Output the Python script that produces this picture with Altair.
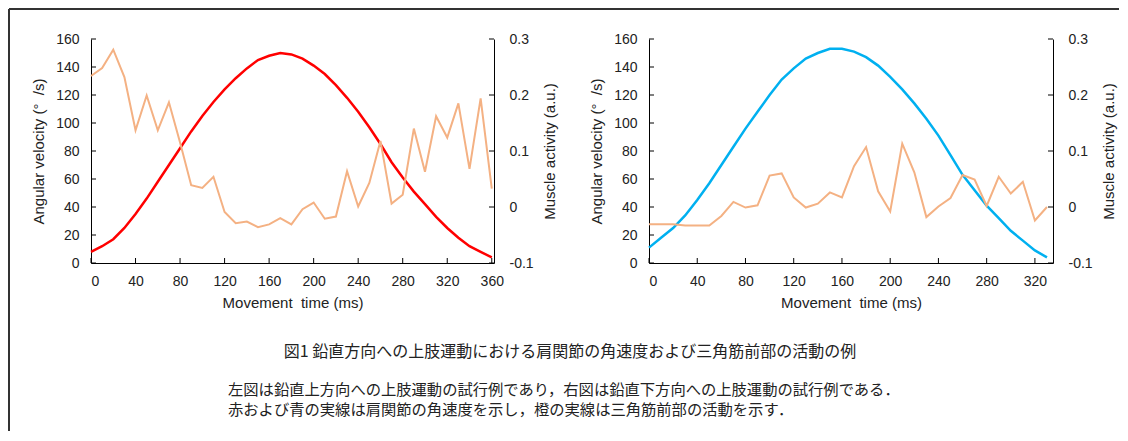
import altair as alt
import pandas as pd

# ---------------- data ----------------
t_left = list(range(0, 361, 10))
velocity_left = [8, 12, 17, 25, 35, 46, 58, 70, 82, 94,
                 105, 115, 124, 132, 139, 145, 148, 150, 149, 146,
                 141, 135, 127, 118, 108, 97, 85, 72, 61, 51,
                 42, 33, 25, 18, 12, 8, 4]
emg_left = [0.234, 0.248, 0.281, 0.232, 0.137, 0.199, 0.137, 0.187, 0.115, 0.039,
            0.034, 0.054, -0.009, -0.029, -0.026, -0.036, -0.031, -0.020, -0.031, -0.004,
            0.008, -0.021, -0.017, 0.064, 0.001, 0.043, 0.118, 0.006, 0.022, 0.140,
            0.063, 0.162, 0.124, 0.185, 0.068, 0.194, 0.033]

t_right = list(range(0, 331, 10))
velocity_right = [11, 18, 25, 34, 45, 57, 70, 83, 96, 108,
                  120, 131, 139, 146, 150, 153, 153, 151, 147, 141,
                  133, 124, 114, 103, 91, 77, 63, 52, 41, 32,
                  23, 16, 9, 4]
emg_right = [-0.031, -0.031, -0.031, -0.033, -0.033, -0.033, -0.016, 0.009, -0.001, 0.003,
             0.056, 0.060, 0.017, -0.001, 0.006, 0.026, 0.017, 0.073, 0.107, 0.028,
             -0.008, 0.113, 0.062, -0.018, 0.001, 0.016, 0.057, 0.049, 0.002, 0.054,
             0.024, 0.045, -0.024, 0.000]

x_ticks_left = [0, 40, 80, 120, 160, 200, 240, 280, 320, 360]
x_ticks_right = [0, 40, 80, 120, 160, 200, 240, 280, 320]
velocity_ticks = [0, 20, 40, 60, 80, 100, 120, 140, 160]
emg_ticks = [-0.1, 0, 0.1, 0.2, 0.3]

x_title = "Movement\u00a0 time (ms)"
y_left_title = "Angular velocity (°\u00a0 /s)"
y_right_title = "Muscle activity (a.u.)"

caption_title = "図1 鉛直方向への上肢運動における肩関節の角速度および三角筋前部の活動の例"
caption_lines = [
    "左図は鉛直上方向への上肢運動の試行例であり，右図は鉛直下方向への上肢運動の試行例である．",
    "赤および青の実線は肩関節の角速度を示し，橙の実線は三角筋前部の活動を示す．",
]

# ---------------- style ----------------
RED = "#FF0000"
BLUE = "#00B0F0"
ORANGE = "#F4B183"
AXC = "#000000"
FONT = "Liberation Sans"
JP = "Noto Sans CJK JP"
H = 224
W_LEFT = 403
W_RIGHT = 404
TICK = 5

emg_label = "datum.value == 0 ? '0' : (datum.value < 0 ? '-' + format(-datum.value, '.1f') : format(datum.value, '.1f'))"


def panel(t, vel, emg, color, xmax, xticks, W, extra=None):
    df = pd.DataFrame({"t": t, "vel": vel, "emg": emg})
    xs = alt.Scale(domain=[0, xmax], nice=False, zero=False)
    ysl = alt.Scale(domain=[0, 160], nice=False)
    ysr = alt.Scale(domain=[-0.1, 0.3], nice=False)
    xaxis = alt.Axis(orient="bottom", values=xticks, title=x_title, ticks=False, grid=False,
                     labelPadding=11, titlePadding=7)

    vel_line = alt.Chart(df).mark_line(color=color, strokeWidth=2.5).encode(
        x=alt.X("t:Q", scale=xs, axis=xaxis),
        y=alt.Y("vel:Q", scale=ysl,
                axis=alt.Axis(orient="left", values=velocity_ticks, title=y_left_title,
                              ticks=False, grid=False, labelPadding=12, titlePadding=9)),
    )
    emg_line = alt.Chart(df).mark_line(color=ORANGE, strokeWidth=2).encode(
        x=alt.X("t:Q", scale=xs, axis=xaxis),
        y=alt.Y("emg:Q", scale=ysr,
                axis=alt.Axis(orient="right", values=emg_ticks, title=y_right_title,
                              ticks=False, grid=False, labelPadding=15, titlePadding=9,
                              titleAngle=270, titleBaseline="top", labelExpr=emg_label)),
    )
    xt = alt.Chart(pd.DataFrame({"t": xticks})).mark_rule(color=AXC, strokeWidth=1).encode(
        x=alt.X("t:Q", scale=xs, axis=xaxis), y=alt.value(H - TICK), y2=alt.value(H))
    ylt = alt.Chart(pd.DataFrame({"v": velocity_ticks})).mark_rule(color=AXC, strokeWidth=1).encode(
        y=alt.Y("v:Q", scale=ysl, axis=None), x=alt.value(0), x2=alt.value(TICK))
    yrt = alt.Chart(pd.DataFrame({"v": emg_ticks})).mark_rule(color=AXC, strokeWidth=1).encode(
        y=alt.Y("v:Q", scale=ysr, axis=None), x=alt.value(W - TICK), x2=alt.value(W))

    layers = [vel_line, emg_line, xt, ylt, yrt] + (extra or [])
    return alt.layer(*layers).resolve_scale(y="independent").resolve_axis(y="independent").properties(
        width=W, height=H)


# frame and caption (drawn in the left panel's coordinate space)
frame_top = alt.Chart(pd.DataFrame({"edge": ["top"]})).mark_rule(color="#333333", strokeWidth=2).encode(
    x=alt.value(-82), x2=alt.value(1028), y=alt.value(-30))
frame_left = alt.Chart(pd.DataFrame({"edge": ["left"]})).mark_rule(color="#333333", strokeWidth=2).encode(
    x=alt.value(-82), y=alt.value(-30), y2=alt.value(392))
cap0 = alt.Chart(pd.DataFrame({"text": [caption_title]})).mark_text(
    font=JP, fontSize=16, align="center", baseline="middle", color="#222222").encode(
    text="text:N", x=alt.value(479), y=alt.value(313))
cap1 = alt.Chart(pd.DataFrame({"text": [caption_lines[0]]})).mark_text(
    font=JP, fontSize=15.3, align="left", baseline="middle", color="#222222").encode(
    text="text:N", x=alt.value(137), y=alt.value(351))
cap2 = alt.Chart(pd.DataFrame({"text": [caption_lines[1]]})).mark_text(
    font=JP, fontSize=15.3, align="left", baseline="middle", color="#222222").encode(
    text="text:N", x=alt.value(137), y=alt.value(371))

left = panel(t_left, velocity_left, emg_left, RED, 362, x_ticks_left, W_LEFT,
             extra=[frame_top, frame_left, cap0, cap1, cap2])
right = panel(t_right, velocity_right, emg_right, BLUE, 335, x_ticks_right, W_RIGHT)

chart = alt.hconcat(left, right, spacing=155, bounds="flush").properties(
    padding=0
).configure_axis(
    labelFont=FONT, titleFont=FONT, labelFontSize=14, titleFontSize=15,
    titleFontWeight="normal", labelColor="#222222", titleColor="#222222",
    domainColor=AXC, domainWidth=1,
).configure_view(strokeWidth=0)

chart.save("out.html", embed_options={"renderer": "svg", "actions": False})
